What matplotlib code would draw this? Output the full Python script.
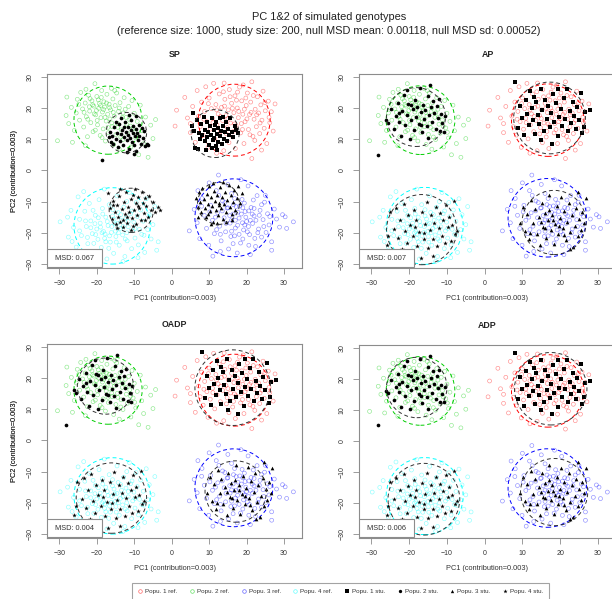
import numpy as np
import matplotlib
matplotlib.use("Agg")
import matplotlib.pyplot as plt
from matplotlib.patches import Ellipse, Rectangle
from matplotlib.lines import Line2D

plt.rcParams['font.family'] = ['Liberation Sans', 'DejaVu Sans']

# ---- text ----
title_line1 = "PC 1&2 of simulated genotypes"
title_line2 = ("(reference size: 1000, study size: 200, null MSD mean: 0.00118, "
               "null MSD sd: 0.00052)")
panel_names = ["SP", "AP", "OADP", "ADP"]
msd_values = ["0.067", "0.007", "0.004", "0.006"]
xlab = "PC1 (contribution=0.003)"
ylab = "PC2 (contribution=0.003)"
ticks = [-30, -20, -10, 0, 10, 20, 30]
ref_labels = ["Popu. 1 ref.", "Popu. 2 ref.", "Popu. 3 ref.", "Popu. 4 ref."]
stu_labels = ["Popu. 1 stu.", "Popu. 2 stu.", "Popu. 3 stu.", "Popu. 4 stu."]
ref_colors = ["#FF0000", "#00CD00", "#0000FF", "#00FFFF"]
stu_markers = ["s", "o", "^", "*"]

# ---- reference samples (same in every panel) ----
ref_pop1 = [(0.9,14.2),(1.3,19.3),(3.5,23.4),(4.2,16.8),(5.0,12.1),(5.6,20.5),(6.3,9.0),(6.8,25.6),(7.2,17.4),(7.6,14.0),
            (8.0,21.9),(8.4,11.3),(8.8,18.9),(9.1,26.8),(9.4,15.6),(9.7,7.4),(10.0,23.2),(10.3,13.2),(10.6,19.8),(10.9,16.7),
            (11.2,27.9),(11.5,10.1),(11.8,21.1),(12.1,14.6),(12.4,18.1),(12.7,24.5),(13.0,12.4),(13.3,20.2),(13.6,16.0),(13.9,6.3),
            (14.2,22.8),(14.5,17.6),(14.8,13.7),(15.1,19.4),(15.4,25.9),(15.7,15.2),(16.0,21.5),(16.3,10.7),(16.6,18.5),(16.9,23.9),
            (17.2,14.3),(17.5,20.0),(17.8,16.9),(18.1,26.7),(18.4,12.0),(18.7,22.3),(19.0,18.0),(19.3,8.6),(19.6,15.6),(19.9,20.8),
            (20.2,24.8),(20.5,13.1),(20.8,17.9),(21.1,21.9),(21.4,28.4),(21.7,10.9),(22.0,16.4),(22.3,19.6),(22.6,14.0),(22.9,23.6),
            (23.2,18.4),(23.5,11.8),(23.8,21.0),(24.1,16.1),(24.4,25.4),(24.7,13.5),(25.0,19.1),(25.4,8.6),(25.8,22.2),(26.2,15.3),
            (26.6,18.8),(27.1,12.6),(27.6,21.3),(21.4,3.8),(17.0,7.0),(12.0,5.5),(14.0,28.0),(24.0,6.5),(5.0,15.0),(16.5,12.5),
            (13.1,17.3),(15.0,16.6),(17.9,18.9),(19.4,19.6),(21.2,18.6),(18.6,15.0),(16.2,19.9),(14.1,20.6),(20.1,16.5),(22.7,17.8),
            (17.3,22.5),(19.8,23.2),(15.6,23.6),(12.0,19.4),(23.6,15.2),(18.9,13.1),(16.8,14.9),(14.6,11.7),(20.9,11.4),(11.0,15.3),
            (24.9,21.7),(13.8,25.2),(9.8,21.4),(21.8,24.0),(15.3,8.9),(22.2,9.6),(8.6,16.4),(26.0,17.0),(17.6,25.1),(19.1,27.4)]
ref_pop2 = [(-30.5,9.5),(-28.2,17.6),(-28.0,23.5),(-27.5,15.0),(-26.8,20.2),(-26.0,12.8),(-25.5,18.4),(-25.2,22.8),(-24.6,16.1),(-24.3,25.0),
            (-23.8,19.7),(-23.5,13.9),(-23.1,21.6),(-22.8,17.2),(-22.5,10.8),(-22.2,24.1),(-21.9,19.0),(-21.6,15.3),(-21.3,22.3),(-21.0,12.4),
            (-20.8,20.6),(-20.5,27.8),(-20.3,17.8),(-20.0,23.7),(-19.8,14.6),(-19.5,19.9),(-19.3,21.4),(-19.1,11.2),(-18.9,16.9),(-18.7,25.6),
            (-18.5,18.7),(-18.3,13.3),(-18.1,22.0),(-17.9,20.3),(-17.7,9.4),(-17.5,15.8),(-17.3,24.4),(-17.1,18.0),(-16.9,12.1),(-16.7,21.2),
            (-16.5,16.5),(-16.3,19.4),(-16.1,26.3),(-15.9,14.0),(-15.7,22.9),(-15.5,8.3),(-15.3,17.4),(-15.1,20.8),(-14.9,11.5),(-14.7,24.8),
            (-14.5,15.1),(-14.2,18.9),(-14.0,6.8),(-13.8,21.7),(-13.5,13.0),(-13.2,17.0),(-13.0,9.9),(-12.7,23.3),(-12.4,19.6),(-12.1,14.8),
            (-11.8,11.9),(-11.5,20.5),(-11.2,16.2),(-10.9,7.5),(-10.6,22.4),(-10.3,13.6),(-10.0,18.3),(-9.6,10.4),(-9.2,15.7),(-8.8,5.0),
            (-8.4,20.9),(-8.0,12.7),(-7.5,8.6),(-7.0,17.1),(-6.3,4.2),(-5.6,14.5),(-5.0,10.2),(-4.3,16.3),(-23.0,7.9),(-26.5,9.0),
            (-20.1,19.2),(-19.0,20.8),(-21.1,21.0),(-18.2,19.5),(-22.0,20.4),(-19.6,22.6),(-17.4,21.6),(-20.7,18.1),(-18.8,23.4),(-21.8,23.0),
            (-16.6,20.1),(-23.4,18.6),(-17.8,17.0),(-19.9,16.0),(-15.6,18.6),(-22.4,16.4),(-14.0,20.0),(-16.0,15.2),(-13.0,18.4),(-12.2,17.0),
            (-24.8,21.2),(-20.4,12.9),(-17.0,13.8),(-14.4,13.8),(-11.0,14.2),(-18.6,10.5),(-13.6,10.7),(-9.9,12.2),(-15.2,25.6),(-22.9,26.0)]
ref_pop3 = [(4.7,-19.4),(6.0,-12.5),(6.8,-16.8),(7.5,-21.9),(8.1,-9.0),(8.7,-14.4),(9.3,-18.6),(9.9,-24.0),(10.4,-11.2),(10.9,-16.0),
            (11.4,-20.3),(11.9,-6.5),(12.3,-13.6),(12.5,-1.5),(12.8,-17.9),(13.2,-22.6),(13.6,-9.8),(14.0,-15.2),(14.4,-19.7),(14.8,-12.1),
            (15.2,-25.2),(15.6,-16.9),(16.0,-7.4),(16.4,-14.0),(16.8,-21.0),(17.2,-11.6),(17.6,-17.6),(18.0,-15.3),(18.4,-23.3),(18.8,-9.3),
            (19.2,-19.1),(19.6,-13.2),(20.0,-16.4),(20.4,-5.0),(20.8,-20.6),(21.2,-11.9),(21.6,-17.0),(22.0,-14.6),(22.4,-24.4),(22.8,-8.1),
            (23.2,-18.8),(23.6,-12.8),(24.0,-21.4),(24.4,-15.8),(24.8,-10.2),(25.2,-19.9),(25.6,-13.9),(26.0,-17.5),(26.7,-22.9),(26.7,-25.6),
            (27.4,-12.4),(28.0,-15.6),(28.8,-18.2),(29.6,-14.2),(30.3,-14.9),(30.7,-18.6),(32.5,-16.5),(15.0,-4.5),(18.5,-3.0),(10.0,-4.0),
            (13.0,-26.0),(17.5,-26.5),(21.0,-27.0),(7.0,-6.5),(11.0,-27.5),(16.0,-19.5),(19.0,-12.0),(17.0,-16.0),(15.5,-14.5),(20.5,-18.0),
            (18.0,-20.5),(14.5,-17.0),(22.5,-16.0),(13.5,-13.0),(21.5,-14.0),(16.5,-11.0),(19.5,-17.5),(12.0,-19.0),(23.0,-20.0),(25.0,-8.0),
            (18.6,-14.0),(19.8,-15.0),(17.7,-13.4),(20.6,-13.0),(18.9,-16.8),(17.0,-18.5),(21.0,-16.0),(19.4,-10.5),(16.0,-15.9),(18.2,-11.4),
            (22.0,-12.2),(20.2,-19.7),(15.0,-12.0),(23.4,-14.4),(16.8,-9.0),(14.2,-10.3),(21.8,-9.5),(11.7,-15.0),(24.6,-18.0),(19.0,-22.0),
            (13.0,-20.5),(16.4,-23.5),(22.2,-21.8),(10.2,-13.3),(26.2,-14.8),(12.6,-8.0),(15.8,-21.2),(20.6,-24.0),(8.0,-11.5),(24.0,-11.0)]
ref_pop4 = [(-29.8,-16.5),(-27.6,-21.4),(-26.9,-12.8),(-26.2,-18.3),(-25.5,-24.6),(-25.0,-8.5),(-24.6,-15.7),(-24.1,-20.9),(-23.7,-27.0),(-23.2,-13.1),
            (-22.8,-18.0),(-22.4,-23.5),(-22.0,-10.6),(-21.6,-16.2),(-21.2,-20.3),(-20.8,-26.1),(-20.4,-14.4),(-20.0,-18.8),(-19.7,-22.1),(-19.4,-9.4),
            (-19.1,-16.9),(-18.8,-24.7),(-18.5,-12.2),(-18.2,-19.6),(-17.9,-21.8),(-17.6,-15.0),(-17.3,-28.4),(-17.0,-17.7),(-16.7,-11.0),(-16.4,-23.0),
            (-16.1,-19.9),(-15.8,-14.6),(-15.5,-26.6),(-15.2,-17.2),(-14.9,-21.2),(-14.6,-8.2),(-14.3,-13.5),(-14.0,-24.0),(-13.7,-18.6),(-13.4,-16.0),
            (-13.1,-20.7),(-12.8,-11.8),(-12.5,-27.6),(-12.2,-15.3),(-11.9,-22.6),(-11.6,-18.1),(-11.3,-7.1),(-11.0,-13.9),(-10.7,-25.1),(-10.4,-19.4),
            (-10.1,-16.6),(-9.8,-21.7),(-9.5,-10.3),(-9.2,-14.8),(-8.9,-23.9),(-8.6,-18.9),(-8.3,-12.7),(-8.0,-20.5),(-7.6,-16.3),(-7.2,-26.3),
            (-6.8,-9.1),(-6.4,-19.0),(-6.0,-14.2),(-5.5,-22.0),(-5.0,-17.4),(-4.5,-11.6),(-4.0,-25.6),(-3.6,-22.9),(-21.0,-29.0),(-27.8,-15.0),
            (-23.5,-6.8),(-18.0,-6.0),(-13.0,-29.2),(-9.0,-28.0),(-25.8,-28.5),(-20.5,-17.1),(-17.8,-20.4),(-15.0,-19.5),(-12.0,-20.0),(-22.5,-21.5),
            (-19.0,-18.2),(-17.2,-16.4),(-16.0,-18.0),(-18.6,-20.0),(-14.6,-17.0),(-20.3,-20.6),(-15.4,-15.6),(-17.6,-22.9),(-13.0,-18.0),(-21.6,-18.4),
            (-19.6,-15.2),(-16.6,-21.0),(-14.2,-20.0),(-11.6,-16.4),(-23.0,-16.2),(-18.4,-14.0),(-15.8,-12.6),(-20.8,-23.4),(-12.4,-22.0),(-9.8,-18.6),
            (-24.6,-19.4),(-21.0,-12.8),(-13.6,-14.2),(-16.8,-25.0),(-10.6,-13.0),(-19.4,-26.8),(-14.8,-23.0),(-7.4,-20.8),(-26.6,-22.8),(-12.0,-10.0)]
ref_pops = [ref_pop1, ref_pop2, ref_pop3, ref_pop4]

# ---- study samples, SP panel ----
sp_pop1 = [(5.8,18.3),(5.5,14.2),(6.0,12.5),(6.3,7.2),(7.1,7.0),(6.8,16.2),(7.2,12.0),(7.5,10.2),(7.9,14.8),(8.2,11.5),
           (8.5,17.0),(8.8,9.3),(9.0,13.1),(9.3,15.6),(9.5,10.8),(9.8,12.3),(10.0,8.1),(10.2,14.2),(10.5,11.3),(10.7,16.9),
           (11.0,9.7),(11.2,12.9),(11.4,10.5),(11.6,14.7),(11.9,7.8),(12.1,11.8),(12.3,13.5),(12.5,9.2),(12.8,16.9),(13.0,11.0),
           (13.2,12.6),(13.5,8.5),(13.7,14.1),(14.0,10.1),(14.2,12.2),(14.5,15.4),(14.8,9.5),(15.0,13.4),(15.3,11.3),(15.6,16.8),
           (16.0,12.4),(16.3,10.6),(16.8,14.3),(17.2,12.8),(17.6,11.9),(12.0,6.6),(10.8,7.2),(13.8,17.1),(9.2,6.5),(11.7,15.5)]
sp_pop2 = [(-18.7,3.3),(-16.8,10.7),(-16.5,12.3),(-16.0,11.1),(-15.6,8.6),(-15.3,13.8),(-15.0,10.2),(-14.7,12.0),(-14.4,7.4),(-14.1,14.9),
           (-13.8,9.4),(-13.5,11.6),(-13.3,13.1),(-13.0,8.2),(-12.8,10.6),(-12.5,15.6),(-12.3,12.4),(-12.0,9.8),(-11.8,11.3),(-11.6,13.9),
           (-11.4,6.9),(-11.2,10.3),(-11.0,12.8),(-10.8,16.2),(-10.6,9.0),(-10.4,11.9),(-10.2,14.3),(-10.0,8.0),(-9.8,10.9),(-9.6,13.2),
           (-9.4,17.4),(-9.2,12.0),(-9.0,9.6),(-8.8,14.6),(-8.6,11.0),(-8.3,8.5),(-8.0,13.5),(-7.7,10.4),(-7.4,12.7),(-7.0,7.9),
           (-6.6,8.6),(-6.2,8.2),(-13.6,16.8),(-14.8,15.4),(-12.0,5.8),(-10.0,5.2),(-16.2,9.2),(-11.5,17.6),(-9.5,6.3),(-12.7,14.0)]
sp_pop3 = [(6.6,-8.9),(6.9,-11.8),(7.3,-7.0),(7.6,-10.2),(7.9,-13.5),(8.2,-5.8),(8.5,-9.1),(8.8,-12.0),(9.1,-15.1),(9.4,-7.6),
           (9.7,-10.8),(10.0,-5.1),(10.2,-13.0),(10.5,-8.6),(10.8,-11.5),(11.0,-16.4),(11.3,-6.6),(11.6,-9.8),(11.9,-12.7),(12.2,-7.9),
           (12.4,-14.4),(12.7,-10.4),(13.0,-5.4),(13.2,-12.0),(13.5,-8.4),(13.8,-15.5),(14.0,-10.9),(14.3,-6.9),(14.6,-13.3),(14.9,-9.4),
           (15.2,-4.6),(15.5,-11.8),(15.8,-8.0),(16.1,-14.1),(16.4,-10.1),(16.7,-6.2),(17.0,-12.6),(17.4,-8.9),(17.8,-5.1),(18.3,-10.6),
           (18.7,-7.4),(9.6,-14.0),(12.0,-16.8),(14.4,-16.6),(7.0,-15.0),(11.1,-4.2),(13.7,-3.8),(16.0,-16.0),(10.4,-17.2),(12.6,-11.2)]
sp_pop4 = [(-16.9,-7.2),(-16.5,-12.0),(-16.0,-15.6),(-15.6,-9.8),(-15.2,-13.4),(-14.9,-17.3),(-14.6,-11.1),(-14.3,-14.8),(-14.0,-8.3),(-13.7,-16.4),
           (-13.4,-12.4),(-13.1,-18.1),(-12.8,-10.0),(-12.5,-14.1),(-12.2,-7.0),(-11.9,-16.8),(-11.6,-11.6),(-11.3,-13.4),(-11.0,-9.1),(-10.7,-15.3),
           (-10.4,-17.9),(-10.1,-12.6),(-9.8,-6.1),(-9.5,-10.6),(-9.2,-14.4),(-8.9,-8.4),(-8.6,-12.0),(-8.3,-16.0),(-8.0,-7.0),(-7.7,-10.4),
           (-7.4,-13.6),(-7.1,-9.0),(-6.8,-11.4),(-6.4,-14.8),(-6.0,-8.1),(-5.6,-12.8),(-5.0,-10.2),(-4.4,-13.5),(-3.6,-11.8),(-3.1,-12.6),
           (-14.6,-18.6),(-12.9,-16.0),(-11.0,-19.0),(-9.4,-17.2),(-13.8,-6.0),(-15.8,-11.0),(-10.3,-8.0),(-7.0,-15.9),(-12.0,-14.9),(-9.0,-11.3)]

# ---- study samples, AP panel (OADP and ADP look the same at this size) ----
ap_pop1 = [(8.1,28.2),(8.9,13.5),(9.4,20.6),(9.9,16.8),(10.4,11.2),(10.9,22.5),(11.3,18.0),(11.7,14.4),(12.1,25.4),(12.5,20.0),
           (12.9,16.2),(13.3,11.8),(13.7,21.8),(14.1,17.6),(14.5,14.8),(14.9,26.0),(15.3,19.4),(15.7,12.6),(16.1,22.7),(16.5,16.4),
           (16.9,20.8),(17.3,13.8),(17.7,18.3),(18.1,24.6),(18.5,15.4),(18.9,21.5),(19.3,11.0),(19.7,17.2),(20.1,19.8),(20.5,14.2),
           (20.9,23.1),(21.3,16.6),(21.7,26.1),(22.1,12.5),(22.5,19.1),(22.9,15.1),(23.3,21.9),(23.7,17.4),(24.1,13.4),(24.5,20.4),
           (24.9,16.0),(25.4,24.8),(25.9,12.0),(26.2,14.0),(26.6,18.6),(27.8,19.4),(15.0,9.8),(17.8,8.6),(13.2,23.6),(19.5,26.2)]
ap_pop2 = [(-28.3,5.0),(-26.2,16.0),(-25.5,15.3),(-24.8,19.6),(-24.1,13.2),(-23.6,17.4),(-23.0,21.7),(-22.6,15.6),(-22.2,11.0),(-21.8,19.0),
           (-21.4,24.1),(-21.0,14.4),(-20.6,17.7),(-20.2,21.3),(-19.8,10.2),(-19.4,16.3),(-19.0,19.7),(-18.7,13.0),(-18.4,22.6),(-18.1,17.1),
           (-17.8,20.4),(-17.5,15.0),(-17.2,26.3),(-16.9,18.6),(-16.6,12.2),(-16.3,21.0),(-16.0,16.4),(-15.7,19.3),(-15.4,14.1),(-15.1,23.7),
           (-14.8,17.6),(-14.5,27.4),(-14.2,20.2),(-13.9,15.4),(-13.6,22.4),(-13.3,18.3),(-13.0,13.4),(-12.7,20.8),(-12.4,16.9),(-12.1,23.0),
           (-11.8,12.6),(-11.5,18.0),(-11.2,15.2),(-10.9,12.4),(-10.5,17.3),(-20.5,25.8),(-22.8,18.4),(-17.0,14.6),(-15.0,10.4),(-19.6,20.9)]
ap_pop3 = [(9.4,-16.8),(10.1,-11.6),(10.7,-19.4),(11.3,-14.0),(11.8,-22.0),(12.3,-9.6),(12.8,-17.0),(13.3,-12.4),(13.8,-20.3),(14.3,-15.0),
           (14.7,-24.0),(15.1,-10.4),(15.5,-18.1),(15.9,-13.6),(16.3,-21.6),(16.7,-16.0),(17.1,-7.8),(17.5,-19.2),(17.9,-14.2),(18.3,-23.5),
           (18.7,-17.3),(19.1,-11.5),(19.5,-20.5),(19.9,-15.4),(20.3,-8.6),(20.7,-18.5),(21.1,-13.1),(21.5,-22.4),(21.9,-16.6),(22.3,-10.4),
           (22.7,-19.6),(23.1,-14.3),(23.5,-24.6),(23.9,-17.9),(24.3,-12.2),(24.7,-21.0),(25.1,-15.6),(25.5,-19.0),(25.9,-13.4),(26.4,-16.9),
           (26.9,-8.9),(16.0,-18.4),(18.0,-16.0),(19.6,-17.8),(14.9,-16.4),(21.0,-20.8),(17.0,-12.6),(12.0,-20.2),(22.6,-25.1),(24.6,-6.9)]
ap_pop4 = [(-26.0,-23.8),(-25.2,-13.2),(-24.6,-26.1),(-24.0,-18.7),(-23.4,-12.0),(-22.9,-21.7),(-22.4,-15.8),(-21.9,-25.3),(-21.5,-10.8),(-21.0,-19.3),
           (-20.6,-23.2),(-20.2,-14.4),(-19.8,-17.4),(-19.4,-26.7),(-19.0,-21.0),(-18.6,-12.6),(-18.2,-15.9),(-17.8,-24.4),(-17.4,-19.6),(-17.0,-28.2),
           (-16.6,-13.5),(-16.2,-22.1),(-15.8,-17.1),(-15.4,-10.2),(-15.0,-25.0),(-14.6,-19.0),(-14.2,-14.3),(-13.8,-21.9),(-13.4,-16.8),(-13.0,-11.6),
           (-12.6,-24.1),(-12.2,-18.6),(-11.8,-13.8),(-11.4,-21.0),(-11.0,-16.0),(-10.6,-23.2),(-10.2,-11.0),(-9.8,-18.2),(-9.4,-14.8),(-9.0,-22.6),
           (-8.6,-17.5),(-8.2,-9.8),(-7.8,-20.3),(-7.3,-19.4),(-20.0,-28.0),(-22.5,-27.0),(-18.4,-18.0),(-16.0,-20.2),(-13.7,-27.6),(-25.6,-21.0)]

study = {
    "SP": [sp_pop1, sp_pop2, sp_pop3, sp_pop4],
    "AP": [ap_pop1, ap_pop2, ap_pop3, ap_pop4],
    "OADP": [ap_pop1, ap_pop2, ap_pop3, ap_pop4],
    "ADP": [ap_pop1, ap_pop2, ap_pop3, ap_pop4],
}

# dashed circles: (centre x, centre y, radius in PC1 units)
ref_circles = [(16.7, 16.1, 9.6), (-17.0, 16.1, 9.1), (16.6, -15.2, 10.4), (-15.9, -17.8, 10.2)]
stu_circles = {
    "SP": [(11.6, 11.8, 6.4), (-12.1, 12.1, 5.4), (12.5, -10.6, 5.6), (-10.8, -12.8, 5.9)],
    "AP": [(17.2, 16.8, 9.5), (-18.2, 17.1, 7.8), (18.4, -16.7, 8.5), (-16.7, -19.0, 9.3)],
    "OADP": [(16.3, 16.9, 10.1), (-17.7, 17.4, 7.5), (17.1, -16.4, 8.2), (-16.1, -18.5, 9.4)],
    "ADP": [(17.5, 16.8, 9.6), (-18.0, 17.2, 8.0), (18.4, -16.5, 8.9), (-16.1, -18.8, 9.5)],
}

W, H = 612, 599
fig = plt.figure(figsize=(W / 100, H / 100), dpi=100)

# axes boxes in pixels: left, top, right, bottom
boxes = [(47, 74, 302, 268), (359, 74, 616, 268), (47, 344, 302, 538), (359, 345, 616, 538)]
xlim = (-33.3, 34.8)
ylim = (-31.3, 30.9)
frame_col = "#8c8c8c"
text_col = "#333333"

for name, msd, (l, t, r, b) in zip(panel_names, msd_values, boxes):
    ax = fig.add_axes([l / W, 1 - b / H, (r - l) / W, (b - t) / H])
    ax.set_xlim(xlim)
    ax.set_ylim(ylim)
    # so the circles stay round on screen
    k = ((ylim[1] - ylim[0]) / (b - t)) / ((xlim[1] - xlim[0]) / (r - l))

    for pts, col in zip(ref_pops, ref_colors):
        p = np.array(pts)
        ax.scatter(p[:, 0], p[:, 1], s=8, facecolors="none", edgecolors=col,
                   linewidths=0.45, alpha=0.45, zorder=2)
    for pts, m in zip(study[name], stu_markers):
        p = np.array(pts)
        ax.scatter(p[:, 0], p[:, 1], s=12 if m == "*" else 7, c="black",
                   marker=m, linewidths=0, zorder=4)
    for (cx, cy, rad), col in zip(ref_circles, ref_colors):
        ax.add_patch(Ellipse((cx, cy), 2 * rad, 2 * rad * k, fill=False,
                             edgecolor=col, lw=0.7, ls=(0, (4, 3)), zorder=3))
    for (cx, cy, rad) in stu_circles[name]:
        ax.add_patch(Ellipse((cx, cy), 2 * rad, 2 * rad * k, fill=False,
                             edgecolor="#333333", lw=0.7, ls=(0, (4, 3)), zorder=5))

    # MSD box in the bottom-left corner
    ax.add_patch(Rectangle((0, 0.005), 0.215, 0.093, transform=ax.transAxes,
                           facecolor="white", edgecolor=frame_col, lw=0.8, zorder=6))
    ax.text(0.1075, 0.05, "MSD: " + msd, transform=ax.transAxes, ha="center",
            va="center", fontsize=5.3, color=text_col, zorder=7)

    ax.set_xticks(ticks)
    ax.set_yticks(ticks)
    ax.tick_params(length=4, width=0.6, color=frame_col, labelsize=5,
                   labelcolor=text_col)
    ax.tick_params(axis="x", pad=4.3)
    ax.tick_params(axis="y", pad=5.5)
    for lab in ax.get_yticklabels():
        lab.set_rotation(90)
        lab.set_va("center")
    for s in ax.spines.values():
        s.set_color(frame_col)
        s.set_linewidth(0.8)

    ax.set_title(name, fontsize=6.3, fontweight="bold", color="#222222", pad=12)
    ax.set_xlabel(xlab, fontsize=5.3, color=text_col)
    ax.set_ylabel(ylab, fontsize=5.3, color=text_col)
    ax.xaxis.set_label_coords(0.5, -26.5 / (b - t))
    ax.yaxis.set_label_coords(-(l - 18.5) / (r - l), 0.5)

fig.text(329 / W, 1 - 17 / H, title_line1, ha="center", va="center",
         fontsize=7.9, color="#222222")
fig.text(329 / W, 1 - 31.5 / H, title_line2, ha="center", va="center",
         fontsize=7.9, color="#222222")

handles = []
for lab, col in zip(ref_labels, ref_colors):
    handles.append(Line2D([], [], ls="none", marker="o", ms=2.6, mfc="none",
                          mec=col, mew=0.5, alpha=0.6, label=lab))
for lab, m in zip(stu_labels, stu_markers):
    handles.append(Line2D([], [], ls="none", marker=m, ms=3.2 if m == "*" else 2.4,
                          mfc="black", mec="black", mew=0, label=lab))
leg = fig.legend(handles=handles, ncol=8, loc="upper left",
                 bbox_to_anchor=(131.7 / W, 1 - 583 / H), fontsize=4.5,
                 frameon=True, fancybox=False, borderpad=0.9, handlelength=1.0,
                 handletextpad=0.3, columnspacing=1.8, borderaxespad=0)
leg.get_frame().set_edgecolor(frame_col)
leg.get_frame().set_linewidth(0.8)
for txt in leg.get_texts():
    txt.set_color(text_col)

fig.savefig("out.png", dpi=100)
